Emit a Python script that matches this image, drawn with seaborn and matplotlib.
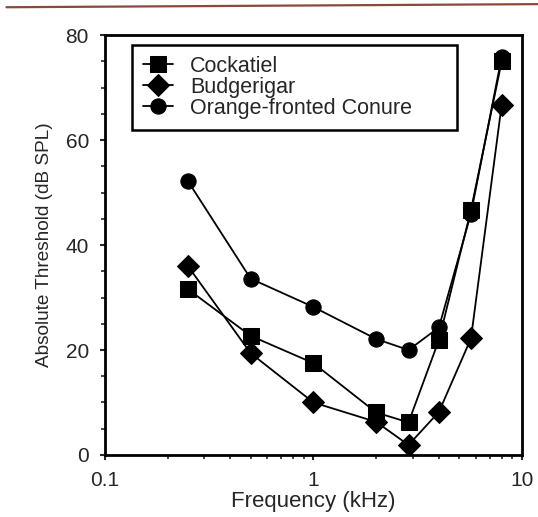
import numpy as np
import pandas as pd
import matplotlib.pyplot as plt
import matplotlib.lines as mlines
import seaborn as sns

# frequencies (kHz) and thresholds
freq = [0.25, 0.5, 1, 2, 2.86, 4, 5.7, 8]
cockatiel = [31.6, 22.7, 17.5, 8.1, 6.2, 21.9, 46.7, 75.0]
budgerigar = [36.0, 19.4, 10.0, 6.3, 1.9, 8.2, 22.2, 66.7]
conure = [52.2, 33.6, 28.2, 22.1, 20.0, 24.3, 46.0, 75.8]
species = ['Cockatiel', 'Budgerigar', 'Orange-fronted Conure']

df = pd.DataFrame({
    'freq': freq * 3,
    'thresh': cockatiel + budgerigar + conure,
    'species': np.repeat(species, len(freq)),
})

sns.set_style('ticks')
plt.rcParams['font.family'] = ['Liberation Sans', 'DejaVu Sans']

fig = plt.figure(figsize=(5.38, 5.17), dpi=100)
ax = fig.add_axes([0.195, 0.12, 0.775, 0.812])

sns.lineplot(data=df, x='freq', y='thresh', hue='species', style='species',
             palette=['black'] * 3, markers={'Cockatiel': 's', 'Budgerigar': 'D',
                                             'Orange-fronted Conure': 'o'},
             dashes=False, markersize=11, linewidth=1.3, markeredgecolor='black',
             ax=ax)

ax.set_xscale('log')
ax.set_xlim(0.1, 10)
ax.set_ylim(0, 80)
ax.set_xticks([0.1, 1, 10])
ax.set_xticklabels(['0.1', '1', '10'])
ax.set_yticks([0, 20, 40, 60, 80])
ax.set_yticks(np.arange(0, 81, 5), minor=True)
ax.tick_params(axis='both', which='major', labelsize=15, length=3.5, width=1.5, pad=8)
ax.tick_params(axis='both', which='minor', length=3, width=1.2)
for s in ax.spines.values():
    s.set_linewidth(2)
    s.set_color('black')

ax.set_xlabel('Frequency (kHz)', fontsize=16, labelpad=1)
ax.set_ylabel('Absolute Threshold (dB SPL)', fontsize=13.7, labelpad=9)

leg = ax.legend(loc='upper left', bbox_to_anchor=(0.065, 0.976, 0.78, 0.0),
                mode='expand', borderaxespad=0, fontsize=15.5, frameon=True,
                fancybox=False, edgecolor='black', handlelength=1.4,
                handletextpad=0.8, labelspacing=0.0, borderpad=0.5)
leg.get_frame().set_linewidth(1.8)
leg.get_frame().set_alpha(1)

# scanned page rule along the top
fig.add_artist(mlines.Line2D([0.012, 1.0], [0.986, 0.992], color='#8a4a3a', linewidth=1.6))

fig.savefig('out.png', dpi=100)
